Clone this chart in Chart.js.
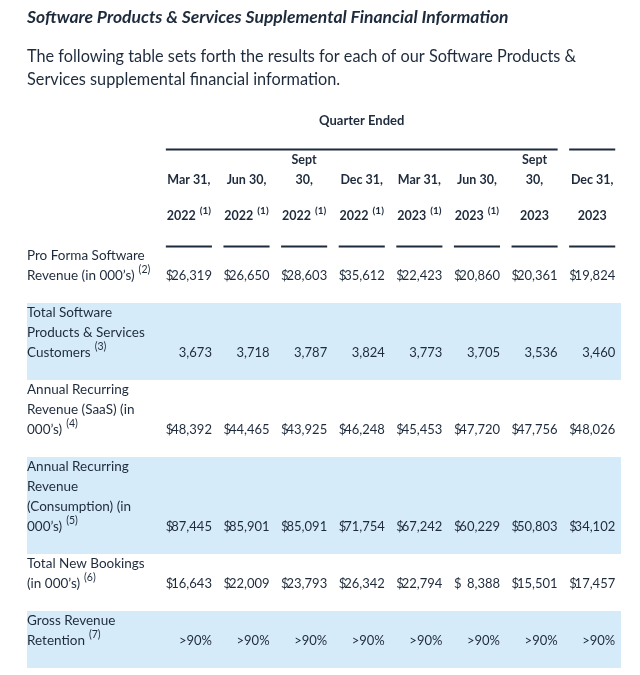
<!DOCTYPE html>
<html>
<head>
<meta charset="utf-8">
<script src="https://cdn.jsdelivr.net/npm/chart.js@4.4.1/dist/chart.umd.min.js"></script>
<style>
  html, body { margin: 0; padding: 0; background: #fff; }
  #tabla { display: block; }
</style>
</head>
<body>
<canvas id="tabla" width="640" height="675"></canvas>
<script>
// columnas (trimestres)
const mesesCol = [["Mar 31,"], ["Jun 30,"], ["Sept", "30,"], ["Dec 31,"], ["Mar 31,"], ["Jun 30,"], ["Sept", "30,"], ["Dec 31,"]];
const aniosCol = ["2022", "2022", "2022", "2022", "2023", "2023", "2023", "2023"];
const notasCol = ["(1)", "(1)", "(1)", "(1)", "(1)", "(1)", "", ""];

// filas
const etiquetasFila = [
  ["Pro Forma Software", "Revenue (in 000\u2019s)"],
  ["Total Software", "Products & Services", "Customers"],
  ["Annual Recurring", "Revenue (SaaS) (in", "000\u2019s)"],
  ["Annual Recurring", "Revenue", "(Consumption) (in", "000\u2019s)"],
  ["Total New Bookings", "(in 000\u2019s)"],
  ["Gross Revenue", "Retention"]
];
const notasFila = ["(2)", "(3)", "(4)", "(5)", "(6)", "(7)"];
const formatoFila = ['usd', 'num', 'usd', 'usd', 'usd', 'pct'];

// valores
const ingresosProForma = [26319, 26650, 28603, 35612, 22423, 20860, 20361, 19824];
const clientesTotales = [3673, 3718, 3787, 3824, 3773, 3705, 3536, 3460];
const arrSaas = [48392, 44465, 43925, 46248, 45453, 47720, 47756, 48026];
const arrConsumo = [87445, 85901, 85091, 71754, 67242, 60229, 50803, 34102];
const nuevasReservas = [16643, 22009, 23793, 26342, 22794, 8388, 15501, 17457];
const retencionBruta = [90, 90, 90, 90, 90, 90, 90, 90];

const valoresFila = [ingresosProForma, clientesTotales, arrSaas, arrConsumo, nuevasReservas, retencionBruta];

const TEXTO = '#1e2b3c';
const AZUL = '#d6ebfa';
const FUENTE = 'Lato, "Noto Sans", sans-serif';

// geometria de filas en unidades de linea (eje y)
const ANCHO_COL = 0.8;
let cursor = 7.3;
const filas = etiquetasFila.map(lineas => {
  const f = { top: cursor, alto: lineas.length + 0.85 };
  cursor += f.alto;
  return f;
});

function formatear(v, tipo) {
  if (tipo === 'pct') return '>' + v + '%';
  return v.toLocaleString('en-US');
}

const pluginTabla = {
  id: 'tabla',
  beforeDatasetsDraw(chart) {
    const { ctx, chartArea, scales: { y } } = chart;
    ctx.save();
    ctx.fillStyle = AZUL;
    filas.forEach((f, i) => {
      if (i % 2 !== 1) return;
      const top = y.getPixelForValue(f.top);
      const bottom = y.getPixelForValue(f.top + f.alto);
      ctx.fillRect(chartArea.left, top, chartArea.right - chartArea.left, bottom - top);
    });
    ctx.restore();
  },
  afterDatasetsDraw(chart) {
    const { ctx, chartArea, scales: { x, y } } = chart;
    ctx.save();
    ctx.fillStyle = TEXTO;
    ctx.strokeStyle = TEXTO;
    ctx.textBaseline = 'middle';

    // encabezado
    ctx.font = 'bold 13px ' + FUENTE;
    ctx.textAlign = 'center';
    ctx.fillText('Quarter Ended', x.getPixelForValue((-ANCHO_COL + 6) / 2), y.getPixelForValue(1.05));

    ctx.lineWidth = 2;
    const linea = (x0, x1, yv) => {
      const py = Math.round(y.getPixelForValue(yv)) + 0.5;
      ctx.beginPath();
      ctx.moveTo(x.getPixelForValue(x0), py);
      ctx.lineTo(x.getPixelForValue(x1), py);
      ctx.stroke();
    };
    linea(-ANCHO_COL, 6, 2.45);
    linea(7 - ANCHO_COL, 7, 2.45);

    mesesCol.forEach((m, k) => {
      const cx = x.getPixelForValue(k - ANCHO_COL / 2);
      ctx.font = 'bold 12.5px ' + FUENTE;
      ctx.textAlign = 'center';
      m.forEach((t, j) => {
        ctx.fillText(t, cx, y.getPixelForValue(4 - (m.length - 1 - j)));
      });
      // año + nota
      const anio = aniosCol[k];
      const nota = notasCol[k];
      const wA = ctx.measureText(anio).width;
      ctx.font = 'bold 10px ' + FUENTE;
      const wN = nota ? ctx.measureText(nota).width + 4 : 0;
      const x0 = cx - (wA + wN) / 2;
      const py = y.getPixelForValue(5.8);
      ctx.textAlign = 'left';
      ctx.font = 'bold 12.5px ' + FUENTE;
      ctx.fillText(anio, x0, py);
      if (nota) {
        ctx.font = 'bold 10px ' + FUENTE;
        ctx.fillText(nota, x0 + wA + 4, py - 5);
      }
      linea(k - ANCHO_COL, k, 7.3);
    });

    // etiquetas de filas
    filas.forEach((f, i) => {
      const lineas = etiquetasFila[i];
      ctx.textAlign = 'left';
      lineas.forEach((t, j) => {
        ctx.font = '13.5px ' + FUENTE;
        const py = y.getPixelForValue(f.top + 0.5 + j);
        ctx.fillText(t, chartArea.left, py);
        if (j === lineas.length - 1) {
          const w = ctx.measureText(t).width;
          ctx.font = '10.5px ' + FUENTE;
          ctx.fillText(notasFila[i], chartArea.left + w + 4, py - 6);
        }
      });
    });

    // valores
    ctx.font = '13px ' + FUENTE;
    chart.data.datasets.forEach((ds, i) => {
      const meta = chart.getDatasetMeta(i);
      meta.data.forEach((pt, k) => {
        const v = ds.data[k].v;
        ctx.textAlign = 'right';
        ctx.fillText(formatear(v, formatoFila[i]), pt.x, pt.y);
        if (formatoFila[i] === 'usd') {
          ctx.textAlign = 'left';
          ctx.fillText('$', x.getPixelForValue(k - ANCHO_COL), pt.y);
        }
      });
    });
    ctx.restore();
  }
};

const ctx = document.getElementById('tabla').getContext('2d');
new Chart(ctx, {
  type: 'scatter',
  data: {
    datasets: valoresFila.map((vals, i) => ({
      label: etiquetasFila[i].join(' '),
      data: vals.map((v, k) => ({ x: k, y: filas[i].top + 0.5 + etiquetasFila[i].length - 1, v })),
      pointRadius: 0,
      showLine: false
    }))
  },
  options: {
    responsive: false,
    animation: false,
    events: [],
    devicePixelRatio: 1,
    layout: { padding: { left: 27, right: 19, top: 0, bottom: 0 } },
    plugins: {
      legend: { display: false },
      tooltip: { enabled: false },
      title: {
        display: true,
        text: 'Software Products & Services Supplemental Financial Information',
        align: 'start',
        color: TEXTO,
        font: { family: FUENTE, size: 17.5, weight: 'bold', style: 'italic', lineHeight: 1.2 },
        padding: { top: 6.5, bottom: 10 }
      },
      subtitle: {
        display: true,
        text: ['The following table sets forth the results for each of our Software Products &',
               'Services supplemental financial information.'],
        align: 'start',
        color: TEXTO,
        font: { family: FUENTE, size: 16.3, lineHeight: 23 / 16.3 },
        padding: { top: 8, bottom: 8.5 }
      }
    },
    scales: {
      x: { type: 'linear', min: -3.21, max: 7.1, display: false },
      y: { type: 'linear', min: 0, max: 28.75, reverse: true, display: false }
    }
  },
  plugins: [pluginTabla]
});
</script>
</body>
</html>
